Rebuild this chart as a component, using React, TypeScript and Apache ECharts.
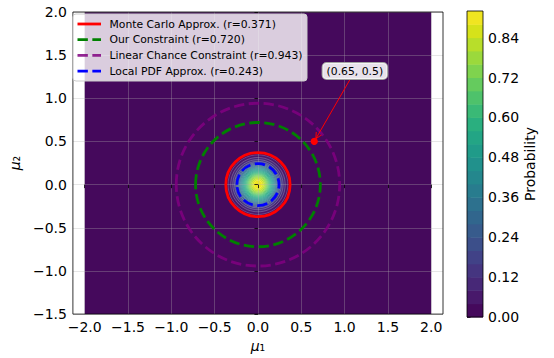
import React, { useEffect, useRef } from 'react';
import * as echarts from 'echarts';

// ---------------- data ----------------
const xTicks = [-2, -1.5, -1, -0.5, 0, 0.5, 1, 1.5, 2];
const xLimits = [-2.136, 2.136];
const yLimits = [-1.5, 2];
const yInterval = 0.5;

const fieldXExtent = [-2, 2];
const fieldYExtent = [-1.5, 2];
const fieldCenter = [0, 0];

// contourf levels (probability)
const probLevels = [0, 0.04, 0.08, 0.12, 0.16, 0.2, 0.24, 0.28, 0.32, 0.36, 0.4, 0.44, 0.48, 0.52, 0.56, 0.6, 0.64, 0.68, 0.72, 0.76, 0.8, 0.84, 0.88, 0.92];
// radius (in mu units) at which the probability reaches probLevels[1..22]
const levelRadii = [0.345, 0.315, 0.29, 0.27, 0.255, 0.241, 0.228, 0.216, 0.204, 0.193, 0.182, 0.171, 0.16, 0.149, 0.138, 0.127, 0.116, 0.105, 0.093, 0.08, 0.066, 0.05];

const colorbarTicks = [0, 0.12, 0.24, 0.36, 0.48, 0.6, 0.72, 0.84];

const methodNames = ['Monte Carlo Approx.', 'Our Constraint', 'Linear Chance Constraint', 'Local PDF Approx.'];
const methodRadii = [0.371, 0.72, 0.943, 0.243];

const annotPoint = [0.65, 0.5];

// ---------------- styles ----------------
const FONT = 'DejaVu Sans';
const methodColors = ['#ff0000', '#008000', '#800080', '#0000ff'];
const methodDashed = [false, true, true, true];
const methodOpacity = [1, 1, 0.85, 1];
const LW = 2.8;

const VIRIDIS = ['#440154', '#48186a', '#472d7b', '#424086', '#3b528b', '#33638d', '#2c728e', '#26828e', '#21918c', '#1fa088', '#28ae80', '#3fbc73', '#5ec962', '#84d44b', '#addc30', '#d8e219', '#fde725'];

function hexToRgb(h: string) {
  return [parseInt(h.slice(1, 3), 16), parseInt(h.slice(3, 5), 16), parseInt(h.slice(5, 7), 16)];
}
function viridis(t: number) {
  const tt = Math.max(0, Math.min(1, t));
  const pos = tt * (VIRIDIS.length - 1);
  const i = Math.min(VIRIDIS.length - 2, Math.floor(pos));
  const f = pos - i;
  const a = hexToRgb(VIRIDIS[i]);
  const b = hexToRgb(VIRIDIS[i + 1]);
  const c = a.map((v, k) => Math.round(v + (b[k] - v) * f));
  return `rgb(${c[0]},${c[1]},${c[2]})`;
}
function bandColor(i: number) {
  const lo = probLevels[0];
  const hi = probLevels[probLevels.length - 1];
  const mid = (probLevels[i] + probLevels[i + 1]) / 2;
  return viridis((mid - lo) / (hi - lo));
}
const minus = (s: string) => s.replace('-', '\u2212');
function dashFor(i: number) {
  return methodDashed[i] ? [3.7 * LW, 1.6 * LW] : undefined;
}

export default function App() {
  const ref = useRef<HTMLDivElement>(null);
  useEffect(() => {
    if (!ref.current) return;
    const chart = echarts.init(ref.current, null, { renderer: 'svg' });

    const tickStyle = { color: '#000', width: 0.8 };
    const labelStyle = { color: '#000', fontSize: 14, fontFamily: FONT };
    const LZ = 50;
    const LX = 73;
    const LY = 14;

    const legendEls: any[] = [
      {
        type: 'rect',
        z: LZ,
        shape: { x: LX, y: LY, width: 234, height: 67, r: 3 },
        style: { fill: 'rgba(255,255,255,0.8)', stroke: '#cccccc', lineWidth: 1 },
      },
    ];
    methodNames.forEach((n, i) => {
      const yy = LY + 10 + i * 15.7;
      legendEls.push({
        type: 'line',
        z: LZ + 1,
        shape: { x1: LX + 4.5, y1: yy, x2: LX + 28, y2: yy },
        style: { stroke: methodColors[i], lineWidth: LW, lineDash: dashFor(i), opacity: methodOpacity[i] },
      });
      legendEls.push({
        type: 'text',
        z: LZ + 1,
        x: LX + 36.5,
        y: yy,
        style: {
          text: `${n} (r=${methodRadii[i].toFixed(3)})`,
          fill: '#000',
          fontSize: 10.8,
          fontFamily: FONT,
          verticalAlign: 'middle',
          align: 'left',
        },
      });
    });

    const option: any = {
      animation: false,
      backgroundColor: '#fff',
      textStyle: { fontFamily: FONT },
      grid: [
        { left: 69, top: 12, width: 374, height: 305, show: true, z: 10, backgroundColor: 'transparent', borderColor: '#000', borderWidth: 0.8 },
        { left: 467, top: 11, width: 16, height: 306, show: true, z: 10, backgroundColor: 'transparent', borderColor: '#000', borderWidth: 0.8 },
      ],
      xAxis: [
        {
          type: 'value',
          gridIndex: 0,
          min: xLimits[0],
          max: xLimits[1],
          z: 2,
          axisLine: { show: false },
          axisTick: { show: true, inside: false, length: 3.5, lineStyle: tickStyle, customValues: xTicks },
          axisLabel: { ...labelStyle, margin: 6, customValues: xTicks, formatter: (v: number) => minus(v.toFixed(1)) },
          splitLine: { show: true, lineStyle: { color: 'rgba(176,176,176,0.4)', width: 0.8 } },
          name: '{m|\u03bc}\u2081',
          nameLocation: 'middle',
          nameGap: 23,
          nameTextStyle: { color: '#000', fontSize: 14, fontFamily: FONT, rich: { m: { fontStyle: 'italic', fontSize: 14, fontFamily: FONT } } },
        },
        { type: 'value', gridIndex: 1, min: 0, max: 1, show: false },
      ],
      yAxis: [
        {
          type: 'value',
          gridIndex: 0,
          min: yLimits[0],
          max: yLimits[1],
          interval: yInterval,
          z: 2,
          axisLine: { show: false },
          axisTick: { show: true, inside: false, length: 3.5, lineStyle: tickStyle },
          axisLabel: { ...labelStyle, margin: 6, formatter: (v: number) => minus(v.toFixed(1)) },
          splitLine: { show: true, lineStyle: { color: 'rgba(176,176,176,0.4)', width: 0.8 } },
          name: '{m|\u03bc}\u2082',
          nameLocation: 'middle',
          nameGap: 37,
          nameTextStyle: { color: '#000', fontSize: 14, fontFamily: FONT, rich: { m: { fontStyle: 'italic', fontSize: 14, fontFamily: FONT } } },
        },
        {
          type: 'value',
          gridIndex: 1,
          position: 'right',
          min: probLevels[0],
          max: probLevels[probLevels.length - 1],
          axisLine: { show: false },
          axisTick: { show: true, inside: false, length: 3.5, lineStyle: tickStyle, customValues: colorbarTicks },
          axisLabel: { ...labelStyle, margin: 5, customValues: colorbarTicks, formatter: (v: number) => v.toFixed(2) },
          splitLine: { show: false },
          name: 'Probability',
          nameLocation: 'middle',
          nameRotate: 90,
          nameGap: 40,
          nameTextStyle: { color: '#000', fontSize: 14, fontFamily: FONT },
        },
      ],
      series: [
        // base field band (lowest level)
        {
          type: 'custom',
          xAxisIndex: 0,
          yAxisIndex: 0,
          z: 1,
          silent: true,
          data: [[fieldXExtent[0], fieldYExtent[0], fieldXExtent[1], fieldYExtent[1]]],
          encode: { x: [0, 2], y: [1, 3] },
          renderItem: (params: any, api: any) => {
            const p0 = api.coord([api.value(0), api.value(1)]);
            const p1 = api.coord([api.value(2), api.value(3)]);
            return {
              type: 'rect',
              shape: { x: p0[0], y: p1[1], width: p1[0] - p0[0], height: p0[1] - p1[1] },
              style: { fill: bandColor(0) },
            };
          },
        },
        // concentric probability bands
        {
          type: 'custom',
          xAxisIndex: 0,
          yAxisIndex: 0,
          z: 1,
          silent: true,
          data: levelRadii.map((r, i) => [fieldCenter[0], fieldCenter[1], r, i + 1]),
          encode: { x: 0, y: 1 },
          renderItem: (params: any, api: any) => {
            const c = api.coord([api.value(0), api.value(1)]);
            const r = api.value(2);
            const s = api.size([r, r]);
            const idx = api.value(3);
            return {
              type: 'ellipse',
              z2: idx,
              shape: { cx: c[0], cy: c[1], rx: s[0], ry: s[1] },
              style: { fill: bandColor(idx), stroke: 'rgba(255,255,255,0.38)', lineWidth: 0.6 },
            };
          },
        },
        // constraint circles
        {
          type: 'custom',
          xAxisIndex: 0,
          yAxisIndex: 0,
          z: 3,
          silent: true,
          data: methodRadii.map((r, i) => [fieldCenter[0], fieldCenter[1], r, i]),
          encode: { x: 0, y: 1 },
          renderItem: (params: any, api: any) => {
            const c = api.coord([api.value(0), api.value(1)]);
            const r = api.value(2);
            const s = api.size([r, r]);
            const i = api.value(3);
            return {
              type: 'ellipse',
              z2: i,
              shape: { cx: c[0], cy: c[1], rx: s[0], ry: s[1] },
              style: { fill: 'none', stroke: methodColors[i], lineWidth: LW, lineDash: dashFor(i), opacity: methodOpacity[i] },
            };
          },
        },
        // annotation
        {
          type: 'custom',
          xAxisIndex: 0,
          yAxisIndex: 0,
          z: 4,
          silent: true,
          data: [annotPoint],
          encode: { x: 0, y: 1 },
          renderItem: (params: any, api: any) => {
            const p = api.coord([api.value(0), api.value(1)]);
            const bx = p[0] + 40.6;
            const by = p[1] - 70.4;
            const halfH = 9;
            const dx = p[0] - bx;
            const dy = p[1] - by;
            const len = Math.sqrt(dx * dx + dy * dy);
            const ux = dx / len;
            const uy = dy / len;
            const t0 = halfH / uy;
            const sx = bx + ux * t0;
            const sy = by + uy * t0;
            const ex = p[0] - ux * 3.2;
            const ey = p[1] - uy * 3.2;
            const hl = 6;
            const hw = 3;
            const h1 = [ex - ux * hl - uy * hw, ey - uy * hl + ux * hw];
            const h2 = [ex - ux * hl + uy * hw, ey - uy * hl - ux * hw];
            return {
              type: 'group',
              children: [
                { type: 'circle', shape: { cx: p[0], cy: p[1], r: 3.6 }, style: { fill: '#ff0000' } },
                { type: 'line', shape: { x1: sx, y1: sy, x2: ex, y2: ey }, style: { stroke: '#ff0000', lineWidth: 1 } },
                { type: 'polyline', shape: { points: [h1, [ex, ey], h2] }, style: { stroke: '#ff0000', lineWidth: 1, fill: 'none' } },
                {
                  type: 'text',
                  x: bx,
                  y: by,
                  style: {
                    text: `(${api.value(0)}, ${api.value(1)})`,
                    fill: '#000',
                    fontSize: 10.8,
                    fontFamily: FONT,
                    align: 'center',
                    verticalAlign: 'middle',
                    backgroundColor: 'rgba(255,255,255,0.88)',
                    borderColor: '#a0a0a0',
                    borderWidth: 1,
                    borderRadius: 4,
                    padding: [3, 4, 2, 4],
                  },
                },
              ],
            };
          },
        },
        // colorbar bands
        {
          type: 'custom',
          xAxisIndex: 1,
          yAxisIndex: 1,
          z: 1,
          silent: true,
          data: probLevels.slice(0, -1).map((lo, i) => [0, lo, 1, probLevels[i + 1], i]),
          encode: { x: [0, 2], y: [1, 3] },
          renderItem: (params: any, api: any) => {
            const p0 = api.coord([api.value(0), api.value(1)]);
            const p1 = api.coord([api.value(2), api.value(3)]);
            return {
              type: 'rect',
              shape: { x: p0[0], y: p1[1], width: p1[0] - p0[0], height: p0[1] - p1[1] + 0.5 },
              style: { fill: bandColor(api.value(4)) },
            };
          },
        },
      ],
      graphic: { elements: legendEls },
    };

    chart.setOption(option);
    return () => chart.dispose();
  }, []);

  return <div ref={ref} style={{ position: 'fixed', left: 0, top: 0, width: 554, height: 358 }} />;
}
